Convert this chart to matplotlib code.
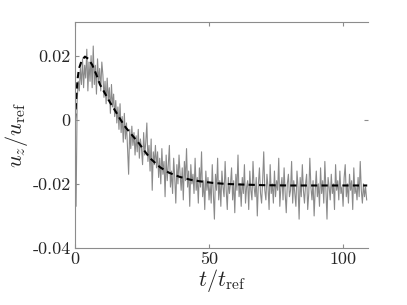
import matplotlib
matplotlib.use("Agg")
import matplotlib.pyplot as plt
import numpy as np

plt.rcParams['font.family'] = 'serif'
plt.rcParams['font.serif'] = ['cmr10']
plt.rcParams['mathtext.fontset'] = 'cm'
plt.rcParams['axes.unicode_minus'] = False

# noisy signal, sampled every 0.4 t_ref, values in units of 1e-3 u_ref
DT_NOISY = 0.4
uz_noisy_milli = [
    0, -27, 6,
    12, 9, 16, 11, 19, 10, 17, 13, 22, 9, 18, 12, 20, 10, 23, 11, 17, 8, 19, 12, 16, 9, 18,
    14, 7, 12, 5, 13, 6, 10, 2, 11, 4, 8, 1,
    6, -1, 4, -3, 5, -4, 1, -7, 2, -6, -1, -9, -17,
    -3, -9, -2, -8, -4, -11, -5, -10, -3, -12, -6, -9, -14, -4, -11, -7, -1, -13, -8, -16,
    -6, -22, -10, -14, -8,
    -15, -10, -18, -12, -20, -9, -17, -13, -24, -11, -19, -14, -8, -21, -16, -23, -12, -18, -26, -14,
    -20, -11, -17, -22, -15, -25, -13, -19, -9, -21, -16, -27, -14, -20, -17, -23, -12, -22, -18, -26,
    -15, -21, -10, -24, -19, -28, -16, -22, -18, -25,
    -20, -26, -14, -23, -31, -17, -22, -12, -25, -19, -27, -16, -21, -24, -13, -22, -28, -18, -23, -20,
    -15, -25, -19, -29, -17, -22, -11, -24, -20, -27, -18, -23, -14, -26, -21, -19, -28, -16, -22, -25,
    -13, -21, -24, -18, -30, -20, -15, -23, -26, -19, -10, -22, -25, -17, -21, -28, -14, -23, -20, -26,
    -16, -24, -19, -22, -12, -27, -21, -18, -25, -15, -23, -29, -20, -17, -24, -22, -13, -26, -19, -23,
    -27, -16, -21, -31, -18, -24, -14, -22, -26, -20, -17, -28, -23, -12, -21, -25, -19, -30, -22, -16,
    -24, -20, -27, -15, -23, -19, -26, -13, -22, -31, -18, -21, -25, -17, -23, -20, -28, -14, -22, -19,
    -25, -16, -23, -21, -27, -18, -14, -24, -20, -26, -17, -22, -19, -28, -15, -23, -21, -25, -18, -24,
    -13, -22, -26, -20, -24, -21, -25,
]

# smooth (dashed) curve
t_mean = [0, 0.3, 0.6, 1.0, 1.5, 2.5, 3.7, 5, 6.5, 8, 9.3, 11, 13, 15, 17, 19, 21, 24, 26, 28,
          31.7, 35, 39, 43, 46.6, 51.5, 56, 62, 70, 80, 90, 100, 109]
uz_mean_milli = [0, 4, 9, 13, 16, 18.5, 19.7, 19, 17, 14, 11, 8.5, 5.5, 2.8, 0, -2.5, -4.5, -7.5,
                 -9.8, -12, -14.8, -16.5, -17.8, -18.7, -19.2, -19.7, -20.0, -20.2, -20.4, -20.5,
                 -20.5, -20.5, -20.5]

x_ticks = [0, 50, 100]
y_ticks = [-0.04, -0.02, 0, 0.02]
y_tick_labels = ['-0.04', '-0.02', '0', '0.02']

t_noisy = np.arange(len(uz_noisy_milli)) * DT_NOISY
uz_noisy = np.array(uz_noisy_milli) * 1e-3
uz_mean = np.array(uz_mean_milli) * 1e-3

fig = plt.figure(figsize=(4.07, 3.05), dpi=100)
ax = fig.add_axes([0.1843, 0.1869, 0.7199, 0.741])

ax.plot(t_noisy, uz_noisy, color='#8a8a8a', lw=0.8)
ax.plot(t_mean, uz_mean, color='black', lw=1.5, dashes=(3, 2))

ax.set_xlim(0, 109.3)
ax.set_ylim(-0.04, 0.0305)
ax.set_xticks(x_ticks)
ax.set_xticklabels([str(v) for v in x_ticks])
ax.set_yticks(y_ticks)
ax.set_yticklabels(y_tick_labels)

spine_col = '#8c8c8c'
for s in ['left', 'bottom', 'top']:
    ax.spines[s].set_color(spine_col)
    ax.spines[s].set_linewidth(0.8)
ax.spines['right'].set_visible(False)
ax.tick_params(direction='in', length=3, width=0.8, color=spine_col,
               labelsize=13, labelcolor='#262626', top=True, pad=3)

sec = ax.secondary_yaxis('right')
sec.set_yticks([0])
sec.set_yticklabels([])
sec.spines['right'].set_visible(False)
sec.tick_params(direction='in', length=3, width=0.8, color=spine_col)

ax.set_xlabel(r'$t/t_{\rm ref}$', fontsize=16, color='#262626', labelpad=0)
ax.set_ylabel(r'$u_z/u_{\rm ref}$', fontsize=16, color='#262626', labelpad=2)

fig.savefig('out.png', dpi=100)
